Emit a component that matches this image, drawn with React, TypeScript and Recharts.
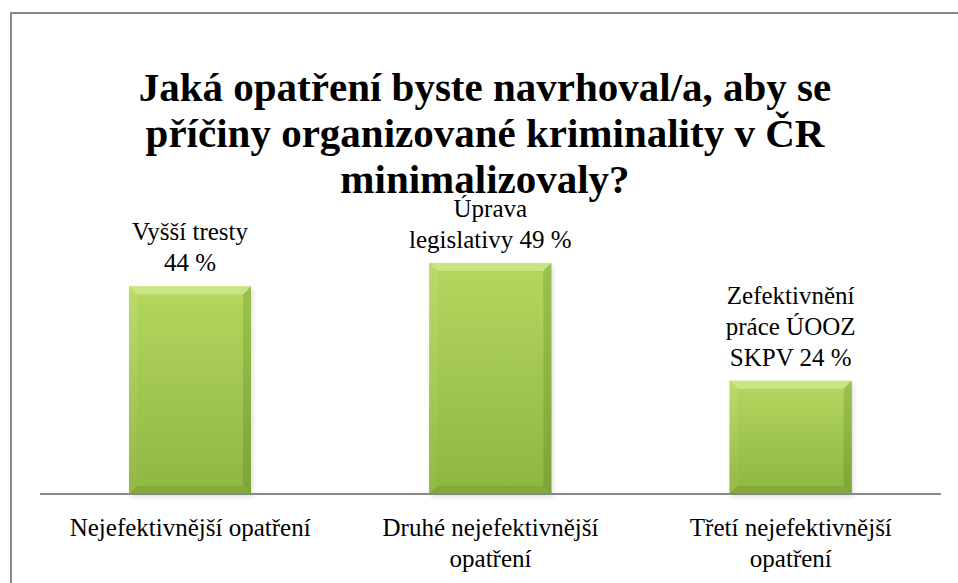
import React from "react";
import { BarChart, Bar, XAxis, YAxis, LabelList } from "recharts";

const titleLines = [
  "Jaká opatření byste navrhoval/a, aby se",
  "příčiny organizované kriminality v ČR",
  "minimalizovaly?",
];
const categories = [
  "Nejefektivnější opatření",
  "Druhé nejefektivnější opatření",
  "Třetí nejefektivnější opatření",
];
const categoryLines = [
  ["Nejefektivnější opatření"],
  ["Druhé nejefektivnější", "opatření"],
  ["Třetí nejefektivnější", "opatření"],
];
const values = [44, 49, 24];
const answerLines = [
  ["Vyšší tresty", ""],
  ["Úprava", "legislativy "],
  ["Zefektivnění", "práce ÚOOZ", "SKPV "],
];

const data = categories.map((c, i) => ({ name: c, value: values[i], idx: i }));

const FONT = "'Liberation Serif', 'Times New Roman', Times, serif";
const CSS = `
html body #root .serifText, html body #root .serifText *, html body #root svg text.serifText, html body #root svg text.serifText tspan {
  font-family: 'Liberation Serif', 'Times New Roman', Times, serif !important;
}
`;

const BevelBar = (props: any) => {
  const { x, y, width: w, height: h } = props;
  if (!w || !h) return null;
  const b = 8;
  return (
    <g>
      <rect x={x + 2} y={y + 3} width={w} height={h} fill="#000" opacity={0.12} filter="url(#barShadow)" />
      <rect x={x} y={y} width={w} height={h} fill="url(#barGrad)" />
      <polygon points={`${x},${y} ${x + w},${y} ${x + w - b},${y + b} ${x + b},${y + b}`} fill="#c9e582" />
      <polygon points={`${x},${y} ${x + b},${y + b} ${x + b},${y + h - b} ${x},${y + h}`} fill="url(#leftGrad)" />
      <polygon points={`${x + w},${y} ${x + w - b},${y + b} ${x + w - b},${y + h - b} ${x + w},${y + h}`} fill="url(#rightGrad)" />
      <polygon points={`${x},${y + h} ${x + b},${y + h - b} ${x + w - b},${y + h - b} ${x + w},${y + h}`} fill="#82a93a" />
    </g>
  );
};

const DataLabel = (props: any) => {
  const { x, y, width, index, value } = props;
  const lines = answerLines[index].slice();
  lines[lines.length - 1] = lines[lines.length - 1] + `${value} %`;
  const lh = 31;
  const cx = x + width / 2;
  const baseY = y - 15;
  return (
    <text className="serifText" x={cx} textAnchor="middle" style={{ fontFamily: FONT, fontSize: 25 }} fill="#000">
      {lines.map((l, i) => (
        <tspan key={i} x={cx} y={baseY - (lines.length - 1 - i) * lh}>
          {l}
        </tspan>
      ))}
    </text>
  );
};

const CategoryTick = (props: any) => {
  const { x, y, payload, index } = props;
  const lines = categoryLines[index] ?? [payload.value];
  return (
    <text className="serifText" x={x} textAnchor="middle" style={{ fontFamily: FONT, fontSize: 25 }} fill="#000">
      {lines.map((l: string, i: number) => (
        <tspan key={i} x={x} y={y + 34 + i * 31}>
          {l}
        </tspan>
      ))}
    </text>
  );
};

export default function App() {
  return (
    <div style={{ position: "fixed", left: 0, top: 0, width: 958, height: 583, background: "#fff", overflow: "hidden" }}>
      <style>{CSS}</style>
      <div
        style={{
          position: "absolute",
          left: 10,
          top: 12,
          width: 960,
          height: 600,
          borderLeft: "2px solid #8a8a8a",
          borderTop: "2px solid #8a8a8a",
          boxSizing: "border-box",
        }}
      />
      <BarChart
        width={958}
        height={583}
        data={data}
        margin={{ top: 211, right: 17, bottom: 0, left: 40 }}
      >
        <defs>
          <linearGradient id="barGrad" x1="0" y1="0" x2="0" y2="1">
            <stop offset="0%" stopColor="#b4d75e" />
            <stop offset="100%" stopColor="#8fb642" />
          </linearGradient>
          <linearGradient id="leftGrad" x1="0" y1="0" x2="0" y2="1">
            <stop offset="0%" stopColor="#bcdc6a" />
            <stop offset="100%" stopColor="#92b944" />
          </linearGradient>
          <linearGradient id="rightGrad" x1="0" y1="0" x2="0" y2="1">
            <stop offset="0%" stopColor="#9cc24c" />
            <stop offset="100%" stopColor="#7ea337" />
          </linearGradient>
          <filter id="barShadow" x="-10%" y="-10%" width="120%" height="120%">
            <feGaussianBlur stdDeviation="2" />
          </filter>
        </defs>
        <YAxis hide domain={[0, 60]} />
        <XAxis
          dataKey="name"
          height={89}
          axisLine={{ stroke: "#888", strokeWidth: 2 }}
          tickLine={false}
          tick={<CategoryTick />}
          interval={0}
        />
        <Bar dataKey="value" barSize={122} shape={<BevelBar />} isAnimationActive={false}>
          <LabelList dataKey="value" content={<DataLabel />} />
        </Bar>
      </BarChart>
      <div
        className="serifText"
        style={{
          position: "absolute",
          left: 10,
          width: 950,
          top: 64,
          textAlign: "center",
          fontFamily: FONT,
          fontWeight: "bold",
          fontSize: 41,
          lineHeight: "46px",
          color: "#000",
        }}
      >
        {titleLines.map((t, i) => (
          <div key={i}>{t}</div>
        ))}
      </div>
    </div>
  );
}
